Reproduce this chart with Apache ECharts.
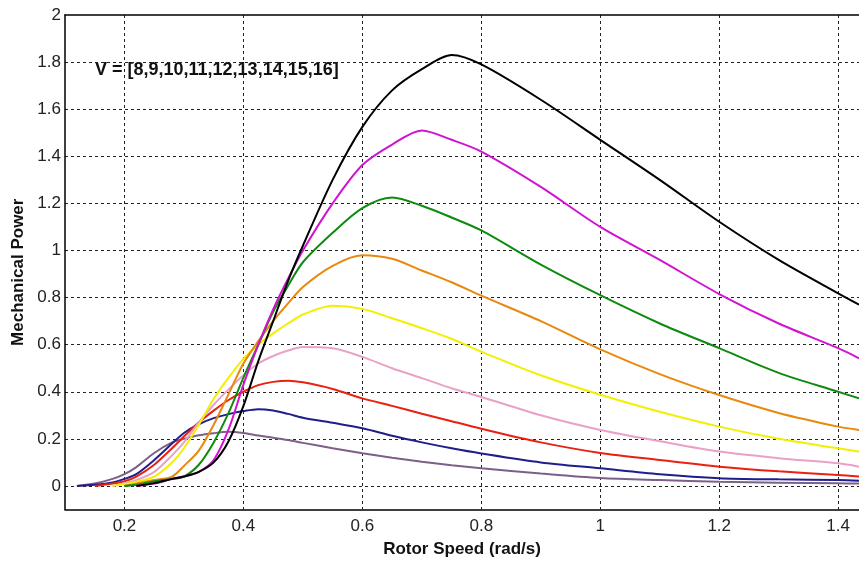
<!DOCTYPE html>
<html>
<head>
<meta charset="utf-8">
<script src="https://cdn.jsdelivr.net/npm/echarts@6/dist/echarts.min.js"></script>
<style>
  html, body { margin: 0; padding: 0; background: #fff; }
  #chart { width: 859px; height: 563px; }
</style>
</head>
<body>
<div id="chart"></div>
<script>
// rotor speed samples (rad/s), shared by every curve
const speed = [0.12, 0.15, 0.18, 0.2, 0.22, 0.25, 0.28, 0.3, 0.325, 0.35, 0.375, 0.4, 0.425, 0.45, 0.475,
  0.5, 0.55, 0.6, 0.65, 0.7, 0.75, 0.8, 0.9, 1.0, 1.1, 1.2, 1.3, 1.4, 1.435];

// wind speeds V
const windSpeeds = [8, 9, 10, 11, 12, 13, 14, 15, 16];

// mechanical power, one array per wind speed
const p8 = [0, 0.01, 0.03, 0.05, 0.08, 0.14, 0.185, 0.2, 0.215, 0.224, 0.23, 0.225, 0.214, 0.205, 0.195,
  0.183, 0.16, 0.139, 0.12, 0.103, 0.088, 0.075, 0.053, 0.034, 0.025, 0.018, 0.014, 0.011, 0.01];
const p9 = [0, 0.005, 0.015, 0.03, 0.05, 0.11, 0.18, 0.225, 0.262, 0.288, 0.305, 0.318, 0.326, 0.32, 0.306,
  0.29, 0.268, 0.245, 0.213, 0.185, 0.16, 0.138, 0.1, 0.075, 0.05, 0.033, 0.028, 0.025, 0.022];
const p10 = [null, 0, 0.01, 0.02, 0.04, 0.09, 0.16, 0.21, 0.27, 0.32, 0.365, 0.4, 0.428, 0.442, 0.447,
  0.44, 0.412, 0.372, 0.34, 0.307, 0.275, 0.243, 0.185, 0.14, 0.11, 0.082, 0.062, 0.047, 0.04];
const p11 = [null, null, 0, 0.012, 0.025, 0.06, 0.13, 0.185, 0.27, 0.345, 0.41, 0.47, 0.52, 0.552, 0.575,
  0.59, 0.585, 0.548, 0.5, 0.458, 0.415, 0.378, 0.3, 0.238, 0.19, 0.146, 0.118, 0.096, 0.082];
const p12 = [null, null, 0, 0.008, 0.018, 0.04, 0.1, 0.16, 0.26, 0.37, 0.46, 0.54, 0.6, 0.648, 0.69,
  0.728, 0.765, 0.752, 0.712, 0.67, 0.625, 0.57, 0.47, 0.387, 0.315, 0.252, 0.2, 0.16, 0.146];
const p13 = [null, null, null, 0, 0.01, 0.025, 0.04, 0.085, 0.15, 0.26, 0.39, 0.52, 0.615, 0.7, 0.775,
  0.845, 0.935, 0.98, 0.965, 0.915, 0.865, 0.808, 0.7, 0.58, 0.475, 0.386, 0.31, 0.252, 0.238];
const p14 = [null, null, null, 0, 0.005, 0.02, 0.03, 0.04, 0.09, 0.185, 0.31, 0.46, 0.6, 0.74, 0.85,
  0.95, 1.075, 1.18, 1.225, 1.19, 1.14, 1.085, 0.94, 0.81, 0.69, 0.585, 0.48, 0.4, 0.372];
const p15 = [null, null, null, null, 0, 0.01, 0.03, 0.04, 0.06, 0.11, 0.24, 0.43, 0.6, 0.75, 0.88,
  1.0, 1.2, 1.363, 1.45, 1.51, 1.47, 1.42, 1.27, 1.1, 0.96, 0.815, 0.69, 0.585, 0.542];
const p16 = [null, null, null, null, 0, 0.012, 0.03, 0.04, 0.06, 0.1, 0.19, 0.34, 0.53, 0.7, 0.87,
  1.02, 1.3, 1.525, 1.68, 1.77, 1.83, 1.79, 1.64, 1.47, 1.3, 1.122, 0.96, 0.818, 0.77];

const powers = [p8, p9, p10, p11, p12, p13, p14, p15, p16];
const colors = ['#7d6088', '#1e1e8c', '#ea2010', '#e8a2c8', '#f2f000', '#e8880c', '#0e8a0e', '#d014d0', '#000000'];

const font = 'Liberation Sans, Arial, sans-serif';
const gridLine = { show: true, lineStyle: { color: '#222', width: 1, type: [3, 3] }, showMinLine: false, showMaxLine: false };

let chart = echarts.init(document.getElementById('chart'));

chart.setOption({
  animation: false,
  grid: { left: 65, right: 0, top: 15, bottom: 53.5 },
  xAxis: [
    {
      type: 'value',
      min: 0.1,
      max: 1.435,
      splitNumber: 7,
      name: 'Rotor Speed (rad/s)',
      nameLocation: 'middle',
      nameGap: 31,
      nameTextStyle: { fontFamily: font, fontSize: 17, fontWeight: 'bold', color: '#111' },
      axisLine: { show: true, onZero: false, lineStyle: { color: '#000', width: 1.5 } },
      axisTick: { show: false },
      axisLabel: { margin: 8, fontFamily: font, fontSize: 17, color: '#222', showMinLabel: false, showMaxLabel: false },
      splitLine: gridLine
    },
    {
      type: 'value',
      position: 'top',
      min: 0.1,
      max: 1.435,
      axisLine: { show: true, onZero: false, lineStyle: { color: '#000', width: 1.5 } },
      axisTick: { show: false },
      axisLabel: { show: false },
      splitLine: { show: false }
    }
  ],
  yAxis: {
    type: 'value',
    min: -0.1,
    max: 2,
    splitNumber: 10,
    name: 'Mechanical Power',
    nameLocation: 'middle',
    nameGap: 38,
    nameTextStyle: { fontFamily: font, fontSize: 17, fontWeight: 'bold', color: '#111', padding: [0, 20, 0, 0] },
    axisLine: { show: true, onZero: false, lineStyle: { color: '#000', width: 1.5 } },
    axisTick: { show: false },
    axisLabel: { margin: 4, fontFamily: font, fontSize: 17, color: '#222', showMinLabel: false },
    splitLine: gridLine
  },
  graphic: [
    {
      type: 'text',
      left: 95,
      top: 61,
      style: {
        text: 'V = [' + windSpeeds.join(',') + ']',
        font: 'bold 18px Liberation Sans, Arial, sans-serif',
        fill: '#111'
      }
    }
  ],
  series: windSpeeds.map((v, i) => ({
    name: 'V = ' + v,
    type: 'line',
    xAxisIndex: 0,
    data: speed.map((s, j) => [s, powers[i][j]]),
    showSymbol: false,
    smooth: 0.3,
    lineStyle: { color: colors[i], width: 2 },
    itemStyle: { color: colors[i] }
  }))
});
</script>
</body>
</html>
